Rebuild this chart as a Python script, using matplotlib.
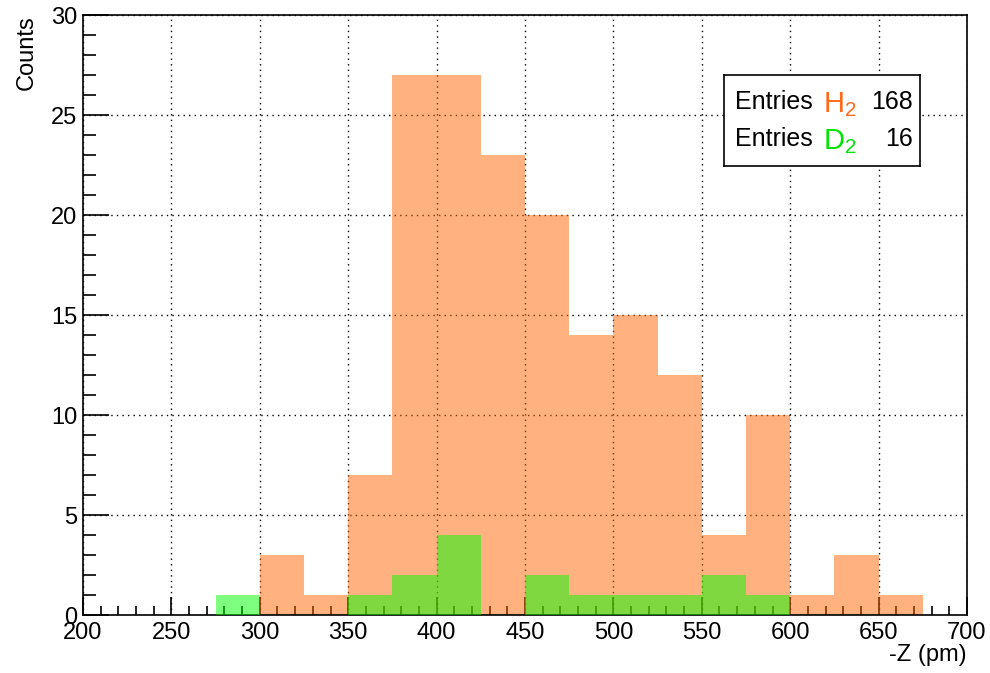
import matplotlib.pyplot as plt
import numpy as np
from matplotlib.ticker import MultipleLocator

plt.rcParams['font.family'] = ['Liberation Sans', 'DejaVu Sans']

# bin edges (-Z in pm), width 25
edges = list(range(200, 725, 25))

# counts per bin, H2 (orange) and D2 (green)
h2_counts = [0, 0, 0, 0, 3, 1, 7, 27, 27, 23, 20, 14, 15, 12, 4, 10, 1, 3, 1, 0]
d2_counts = [0, 0, 0, 1, 0, 0, 1, 2, 4, 0, 2, 1, 1, 1, 2, 1, 0, 0, 0, 0]

h2_entries = sum(h2_counts)
d2_entries = sum(d2_counts)

fig = plt.figure(figsize=(9.9, 6.73), dpi=100)
ax = fig.add_axes([83 / 990, 1 - 615 / 673, (967 - 83) / 990, (615 - 15) / 673])

ax.stairs(h2_counts, edges, fill=True, color='#ff6600', alpha=0.5, lw=0, zorder=2)
ax.stairs(d2_counts, edges, fill=True, color='#00ff00', alpha=0.5, lw=0, zorder=3)

ax.set_xlim(200, 700)
ax.set_ylim(0, 30)
ax.xaxis.set_major_locator(MultipleLocator(50))
ax.xaxis.set_minor_locator(MultipleLocator(10))
ax.yaxis.set_major_locator(MultipleLocator(5))
ax.yaxis.set_minor_locator(MultipleLocator(1))

ax.tick_params(which='both', direction='in', top=False, right=False,
               labelsize=17, width=1.2)
ax.tick_params(axis='x', which='major', length=13, pad=5)
ax.tick_params(axis='x', which='minor', length=6.5)
ax.tick_params(axis='y', which='major', length=19, pad=4)
ax.tick_params(axis='y', which='minor', length=9.5)
for s in ax.spines.values():
    s.set_linewidth(1.2)

ax.grid(True, which='major', color='black', linestyle=(0, (1, 3)), lw=1.0, zorder=1)
ax.set_axisbelow(True)

ax.set_xlabel('-Z (pm)', fontsize=17, loc='right', labelpad=0)
ax.set_ylabel('Counts', fontsize=17, loc='top', labelpad=10)

# stats box
box = ax.inset_axes([(724 - 83) / 884, (615 - 166) / 600, 196 / 884, 91 / 600],
                    transform=ax.transAxes)
box.set_xticks([])
box.set_yticks([])
box.set_xlim(0, 1)
box.set_ylim(0, 1)
box.set_zorder(5)
for s in box.spines.values():
    s.set_linewidth(1.2)
rows = [('$\\mathregular{H_2}$', '#ff6a1a', h2_entries),
        ('$\\mathregular{D_2}$', '#00e600', d2_entries)]
for i, (lab, col, n) in enumerate(rows):
    y = 0.70 - i * 0.40
    box.text(0.056, y, 'Entries', fontsize=18, va='center', ha='left')
    box.text(0.505, y - 0.03, lab, fontsize=21, color=col, va='center', ha='left')
    box.text(0.965, y, str(n), fontsize=18, va='center', ha='right')

fig.savefig('out.png', dpi=100)
